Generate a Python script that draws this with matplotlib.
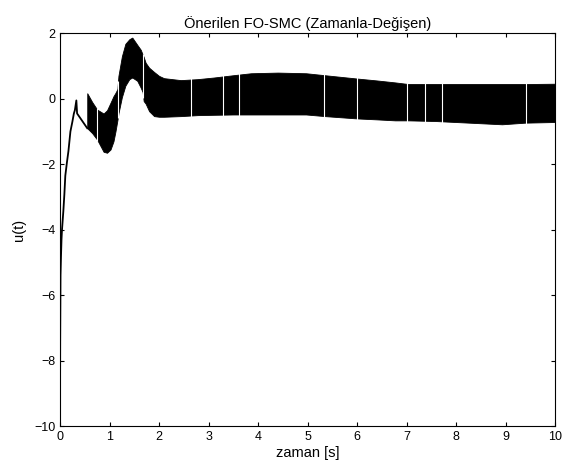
"""Control signal u(t) of the proposed FO-SMC (time-varying)."""
import numpy as np
import matplotlib
matplotlib.use("Agg")
import matplotlib.pyplot as plt

plt.rcParams["font.family"] = ["Liberation Sans", "DejaVu Sans"]
plt.rcParams["font.size"] = 9

# transient before chattering starts
init_t = [0, 0.003, 0.01, 0.02, 0.03, 0.04, 0.067, 0.088, 0.107, 0.14, 0.17,
          0.21, 0.25, 0.28, 0.3, 0.33, 0.345, 0.45, 0.55]
init_u = [-9.5, -7.5, -5.4, -4.8, -4.3, -4.0, -3.44, -2.92, -2.35, -1.94, -1.6,
          -1.0, -0.7, -0.45, -0.35, -0.05, -0.45, -0.68, -0.9]

# envelope of the chattering band
band_t = [0.55, 0.65, 0.75, 0.88, 0.95, 1.02, 1.08, 1.12, 1.16, 1.18, 1.25,
          1.32, 1.4, 1.46, 1.56, 1.63, 1.67, 1.69, 1.73, 1.8, 1.9, 2.0, 2.1,
          2.44, 2.78, 3.11, 3.5, 3.86, 4.4, 4.97, 5.35, 5.99, 6.4, 6.77, 7.04,
          7.58, 8.26, 8.93, 9.4, 10.0]
band_hi = [0.17, -0.1, -0.33, -0.45, -0.35, -0.12, 0.08, 0.18, 0.3, 0.7, 1.3,
           1.68, 1.82, 1.87, 1.65, 1.5, 1.35, 1.28, 1.1, 0.95, 0.82, 0.7, 0.63,
           0.57, 0.6, 0.65, 0.72, 0.78, 0.8, 0.78, 0.72, 0.62, 0.56, 0.5, 0.45,
           0.45, 0.45, 0.45, 0.45, 0.46]
band_lo = [-0.9, -1.05, -1.25, -1.62, -1.65, -1.55, -1.3, -1.0, -0.65, -0.45, 0.05,
           0.4, 0.6, 0.65, 0.55, 0.34, 0.2, -0.07, -0.15, -0.38, -0.53, -0.55, -0.55,
           -0.53, -0.5, -0.49, -0.48, -0.48, -0.48, -0.48, -0.53, -0.6, -0.63, -0.66, -0.66,
           -0.68, -0.73, -0.78, -0.73, -0.71]

# short pauses in the switching (white stripes)
gap_t = [0.75, 1.17, 1.68, 2.65, 3.3, 3.62, 5.33, 5.99, 7.0, 7.37, 7.72, 9.42]

fig = plt.figure(figsize=(5.63, 4.70), dpi=100)
ax = fig.add_axes([0.1066, 0.0936, 0.8792, 0.8355])

ax.plot(init_t, init_u, color="k", linewidth=1.3)
ax.fill_between(band_t, band_lo, band_hi, color="k", linewidth=0.6, edgecolor="k")
gap_lo = np.interp(gap_t, band_t, band_lo) - 0.05
gap_hi = np.interp(gap_t, band_t, band_hi) + 0.05
ax.vlines(gap_t, gap_lo, gap_hi, color="white", linewidth=0.8, zorder=3)

ax.set_xlim(0, 10)
ax.set_ylim(-10, 2)
ax.set_xticks(np.arange(0, 11, 1))
ax.set_yticks(np.arange(-10, 3, 2))
ax.tick_params(direction="in", top=True, right=True, length=3, width=0.8,
               labelsize=9, pad=3.5)
for sp in ax.spines.values():
    sp.set_linewidth(0.8)

ax.set_title("Önerilen FO-SMC (Zamanla-Değişen)", fontsize=10.5, pad=4)
ax.set_xlabel("zaman [s]", fontsize=10.5, labelpad=2)
ax.set_ylabel("u(t)", fontsize=10.5, labelpad=6)

fig.savefig("out.png", dpi=100)
